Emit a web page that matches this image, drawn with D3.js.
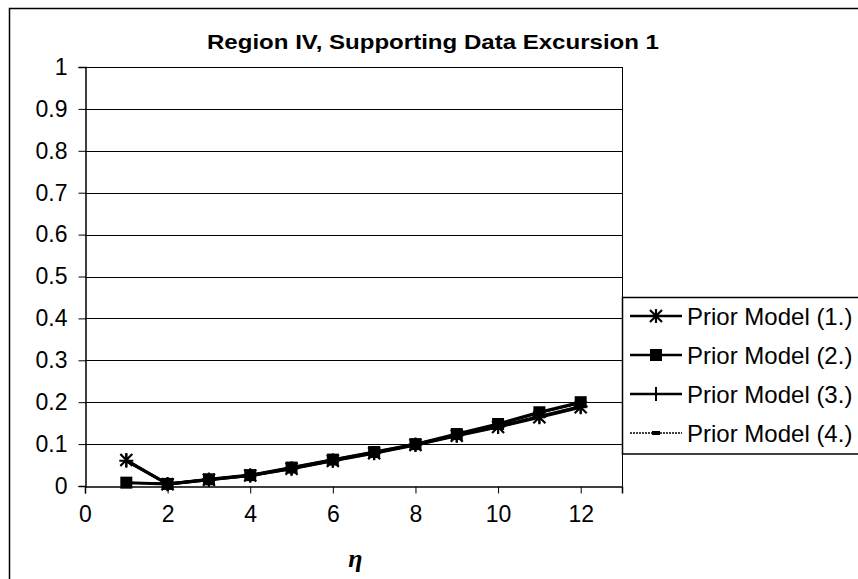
<!DOCTYPE html>
<html>
<head>
<meta charset="utf-8">
<script src="https://cdn.jsdelivr.net/npm/d3@7"></script>
<style>
  html, body { margin: 0; padding: 0; background: #fff; }
  svg { display: block; }
  text { font-family: "Liberation Sans", Arial, sans-serif; fill: #000; }
</style>
</head>
<body>
<svg id="chart" width="858" height="579"></svg>
<script>
// ---- Data ----
const title = "Region IV, Supporting Data Excursion 1";
const xLabel = "\u03B7";
const etaValues = [1, 2, 3, 4, 5, 6, 7, 8, 9, 10, 11, 12];
const seriesNames = ["Prior Model (1.)", "Prior Model (2.)", "Prior Model (3.)", "Prior Model (4.)"];
const model1 = [0.062, 0.004, 0.015, 0.025, 0.041, 0.060, 0.078, 0.098, 0.120, 0.141, 0.164, 0.188];
const model2 = [0.008, 0.005, 0.016, 0.026, 0.044, 0.063, 0.081, 0.100, 0.124, 0.148, 0.176, 0.200];
const model3 = [0.060, 0.005, 0.015, 0.025, 0.042, 0.061, 0.079, 0.099, 0.121, 0.142, 0.166, 0.190];
const model4 = [0.008, 0.006, 0.016, 0.026, 0.044, 0.063, 0.081, 0.100, 0.123, 0.147, 0.174, 0.198];
const xTicks = [0, 2, 4, 6, 8, 10, 12];
const yTicks = [0, 0.1, 0.2, 0.3, 0.4, 0.5, 0.6, 0.7, 0.8, 0.9, 1];

const allSeries = [model1, model2, model3, model4];
const markerTypes = ["star", "square", "plus", "dash"];

// ---- Layout ----
const svg = d3.select("#chart");
const plot = { left: 85, right: 622, top: 67, bottom: 486 };
const x = d3.scaleLinear().domain([0, 13]).range([plot.left, plot.right]);
const y = d3.scaleLinear().domain([0, 1]).range([plot.bottom, plot.top]);

// outer chart border
svg.append("rect").attr("x", 9.5).attr("y", 8.5).attr("width", 870).attr("height", 600)
  .attr("fill", "none").attr("stroke", "#000").attr("stroke-width", 1.5);

// title
svg.append("text").attr("x", 433).attr("y", 49).attr("text-anchor", "middle")
  .attr("textLength", 452).attr("lengthAdjust", "spacingAndGlyphs")
  .style("font-size", "21px").style("font-weight", "bold").text(title);

// gridlines
svg.append("g").selectAll("line").data(yTicks.filter(d => d > 0)).join("line")
  .attr("x1", plot.left).attr("x2", plot.right)
  .attr("y1", d => Math.round(y(d)) + 0.5).attr("y2", d => Math.round(y(d)) + 0.5)
  .attr("stroke", "#000").attr("stroke-width", 1);

// plot border (right side)
svg.append("line").attr("x1", plot.right + 0.5).attr("x2", plot.right + 0.5)
  .attr("y1", plot.top).attr("y2", plot.bottom).attr("stroke", "#000");

// y axis
const yAxis = d3.axisLeft(y).tickValues(yTicks).tickSize(7).tickPadding(11)
  .tickFormat(d3.format("~g"));
const gy = svg.append("g").attr("transform", `translate(${plot.left + 0.5},0)`).call(yAxis);
gy.select(".domain").attr("stroke", "#000").attr("stroke-width", 1.5);
gy.selectAll(".tick line").attr("stroke", "#000");
gy.selectAll(".tick text").style("font-size", "23px").style("font-family", "Liberation Sans, Arial, sans-serif");

// x axis
const xAxis = d3.axisBottom(x).tickValues(xTicks).tickSize(7).tickPadding(12);
const gx = svg.append("g").attr("transform", `translate(0,${plot.bottom + 0.5})`).call(xAxis);
gx.select(".domain").attr("stroke", "#000").attr("stroke-width", 1.5);
gx.selectAll(".tick line").attr("stroke", "#000");
gx.selectAll(".tick text").style("font-size", "23px").style("font-family", "Liberation Sans, Arial, sans-serif");

// x label
svg.append("text").attr("x", (plot.left + plot.right) / 2 + 2).attr("y", 567)
  .attr("text-anchor", "middle")
  .style("font-family", "Liberation Serif, Times New Roman, serif")
  .style("font-style", "italic").style("font-weight", "bold").style("font-size", "26px")
  .text(xLabel);

// marker drawing
function drawMarker(g, type, cx, cy) {
  if (type === "square") {
    g.append("rect").attr("x", cx - 6).attr("y", cy - 6).attr("width", 12).attr("height", 12).attr("fill", "#000");
  } else if (type === "star") {
    const r = 6;
    g.append("path").attr("d",
      `M${cx - r},${cy - r}L${cx + r},${cy + r}M${cx - r},${cy + r}L${cx + r},${cy - r}M${cx},${cy - r - 1}L${cx},${cy + r + 1}`)
      .attr("stroke", "#000").attr("stroke-width", 2.2).attr("fill", "none");
  } else if (type === "plus") {
    const r = 7;
    g.append("path").attr("d", `M${cx - r},${cy}L${cx + r},${cy}M${cx},${cy - r}L${cx},${cy + r}`)
      .attr("stroke", "#000").attr("stroke-width", 2).attr("fill", "none");
  } else if (type === "dash") {
    g.append("rect").attr("x", cx - 4).attr("y", cy - 2).attr("width", 8).attr("height", 4).attr("fill", "#000");
  }
}

// series lines
const line = d3.line().x((d, i) => x(etaValues[i])).y(d => y(d));
const widths = [3, 3, 3, 2];
allSeries.forEach((s, k) => {
  svg.append("path").datum(s).attr("d", line)
    .attr("fill", "none").attr("stroke", "#000").attr("stroke-width", widths[k])
    .attr("stroke-linejoin", "round");
});
allSeries.forEach((s, k) => {
  const g = svg.append("g");
  s.forEach((v, i) => drawMarker(g, markerTypes[k], x(etaValues[i]), y(v)));
});

// legend
const legTop = 297, legStep = 39;
svg.append("rect").attr("x", plot.right + 0.5).attr("y", legTop + 0.5)
  .attr("width", 300).attr("height", 4 * legStep + 0.5)
  .attr("fill", "#fff").attr("stroke", "#000").attr("stroke-width", 1.5);
seriesNames.forEach((name, k) => {
  const cy = legTop + 19 + k * legStep;
  const g = svg.append("g");
  g.append("line").attr("x1", 630).attr("x2", 682).attr("y1", cy).attr("y2", cy)
    .attr("stroke", "#000").attr("stroke-width", k === 3 ? 1.5 : 2.5)
    .attr("stroke-dasharray", k === 3 ? "2,1" : null);
  drawMarker(g, markerTypes[k], 656, cy);
  g.append("text").attr("x", 687).attr("y", cy).attr("dy", "0.36em")
    .style("font-size", "24px").text(name);
});
</script>
</body>
</html>
